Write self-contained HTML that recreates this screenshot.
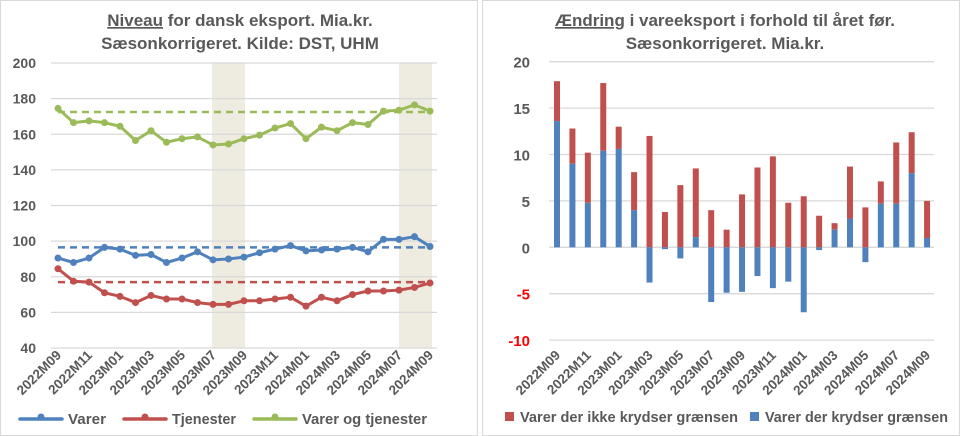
<!DOCTYPE html>
<html><head><meta charset="utf-8"><style>
body{margin:0;background:#fff;}
svg{display:block;font-family:"Liberation Sans",sans-serif;}
text{fill:#595959;font-weight:bold;}
</style></head><body>
<svg id="s" width="960" height="436" xmlns="http://www.w3.org/2000/svg">
<rect x="0.5" y="0.5" width="477" height="435" fill="#fff" stroke="#d9d9d9"/>
<rect x="482.5" y="0.5" width="477" height="435" fill="#fff" stroke="#d9d9d9"/>
<text x="240" y="26" font-size="17" text-anchor="middle"><tspan text-decoration="underline">Niveau</tspan> for dansk eksport. Mia.kr.</text>
<text x="240" y="49" font-size="17" text-anchor="middle">Sæsonkorrigeret. Kilde: DST, UHM</text>
<text x="725" y="26" font-size="17" text-anchor="middle"><tspan text-decoration="underline">Ændring</tspan> i vareeksport i forhold til året før.</text>
<text x="725" y="49" font-size="17" text-anchor="middle">Sæsonkorrigeret. Mia.kr.</text>
<g id="L"></g><g id="R"></g>
</svg>
<script>
const NS="http://www.w3.org/2000/svg";
function el(p,t,a,txt){const e=document.createElementNS(NS,t);for(const k in a)e.setAttribute(k,a[k]);if(txt!==undefined)e.textContent=txt;p.appendChild(e);return e;}
const labs=["2022M09","2022M11","2023M01","2023M03","2023M05","2023M07","2023M09","2023M11","2024M01","2024M03","2024M05","2024M07","2024M09"];
// LEFT
const L=document.getElementById("L");
const ly=v=>63+(200-v)*285/160, lx=i=>58+i*15.5;
el(L,"rect",{x:212,y:63,width:33,height:285,fill:"#eeebe0"});
el(L,"rect",{x:399,y:63,width:33,height:285,fill:"#eeebe0"});
for(let v=40;v<=200;v+=20){const y=ly(v);el(L,"line",{x1:51,x2:437,y1:y,y2:y,stroke:"#d9d9d9","stroke-width":1.3});el(L,"text",{x:36,y:y+5,"font-size":14,"text-anchor":"end"},v);}
const G=[174.5,166.5,167.5,166.5,164.5,156.5,162,155.5,157.5,158.5,154,154.5,157.5,159.5,163.5,166,157.5,164,162,166.5,165.5,173,173.5,176.5,173];
const B=[90.5,88,90.5,96.5,95.5,92,92.5,88,90.5,94,89.5,90,91,93.5,95.5,97.5,94.5,95,95.5,96.5,94,101,101,102.5,97];
const Rd=[84.5,77.5,77,71,69,65.5,69.5,67.5,67.5,65.5,64.5,64.5,66.5,66.5,67.5,68.5,63.5,68.5,66.5,70,72,72,72.5,74,76.5];
[[G,"#9bbb59",172.5],[B,"#4f81bd",96.5],[Rd,"#c0504d",77]].forEach(([d,c,m])=>{
 el(L,"line",{x1:58,x2:430,y1:ly(m),y2:ly(m),stroke:c,"stroke-width":2.5,"stroke-dasharray":"7,5"});
 el(L,"polyline",{points:d.map((v,i)=>lx(i)+","+ly(v)).join(" "),fill:"none",stroke:c,"stroke-width":3,"stroke-linejoin":"round"});
 d.forEach((v,i)=>el(L,"circle",{cx:lx(i),cy:ly(v),r:3.5,fill:c}));
});
labs.forEach((t,k)=>{const x=lx(2*k)+4,y=356;el(L,"text",{x:x,y:y,"font-size":13.5,"text-anchor":"end",transform:`rotate(-45 ${x} ${y})`},t);});
[[18,"#4f81bd","Varer",38],[122,"#c0504d","Tjenester",64],[252,"#9bbb59","Varer og tjenester",125]].forEach(([x,c,t,w])=>{
 el(L,"line",{x1:x+2,x2:x+44,y1:419,y2:419,stroke:c,"stroke-width":3.5,"stroke-linecap":"round"});
 el(L,"circle",{cx:x+23,cy:417,r:3.5,fill:c});
 el(L,"text",{x:x+50,y:424,"font-size":14.5,textLength:w,lengthAdjust:"spacingAndGlyphs"},t);
});
// RIGHT
const R=document.getElementById("R");
const ry=v=>247.3-v*46.4/5, rx=i=>557+i*15.42;
for(let v=-10;v<=20;v+=5){const y=ry(v);el(R,"line",{x1:549,x2:934,y1:y,y2:y,stroke:"#d9d9d9","stroke-width":1.3});
 const tt=el(R,"text",{x:530,y:y+6,"font-size":15,"text-anchor":"end"},v);if(v<0)tt.setAttribute("style","fill:#ff0000");}
const bl=[13.6,9.0,4.8,10.4,10.6,4.0,-3.8,-0.2,-1.2,1.1,-5.9,-4.9,-4.8,-3.1,-4.4,-3.7,-7.0,-0.3,1.9,3.1,-1.6,4.7,4.7,8.0,1.0];
const tp=[17.9,12.8,10.2,17.7,13.0,8.1,12.0,3.8,6.7,8.5,4.0,1.9,5.7,8.6,9.8,4.8,5.5,3.4,2.6,8.7,4.3,7.1,11.3,12.4,5.0];
bl.forEach((b,i)=>{const x=rx(i)-3;const base=Math.max(0,b);
 el(R,"rect",{x:x,y:ry(tp[i]),width:6,height:ry(base)-ry(tp[i]),fill:"#c0504d"});
 el(R,"rect",{x:x,y:Math.min(ry(0),ry(b)),width:6,height:Math.abs(ry(b)-ry(0)),fill:"#4f81bd"});
});
labs.forEach((t,k)=>{const x=rx(2*k)+4,y=356;el(R,"text",{x:x,y:y,"font-size":13.5,"text-anchor":"end",transform:`rotate(-45 ${x} ${y})`},t);});
el(R,"rect",{x:505,y:412,width:9,height:9,fill:"#c0504d"});
el(R,"text",{x:520,y:422,"font-size":14.5,textLength:218,lengthAdjust:"spacingAndGlyphs"},"Varer der ikke krydser grænsen");
el(R,"rect",{x:750,y:412,width:9,height:9,fill:"#4f81bd"});
el(R,"text",{x:765,y:422,"font-size":14.5,textLength:183,lengthAdjust:"spacingAndGlyphs"},"Varer der krydser grænsen");
</script>
</body></html>
